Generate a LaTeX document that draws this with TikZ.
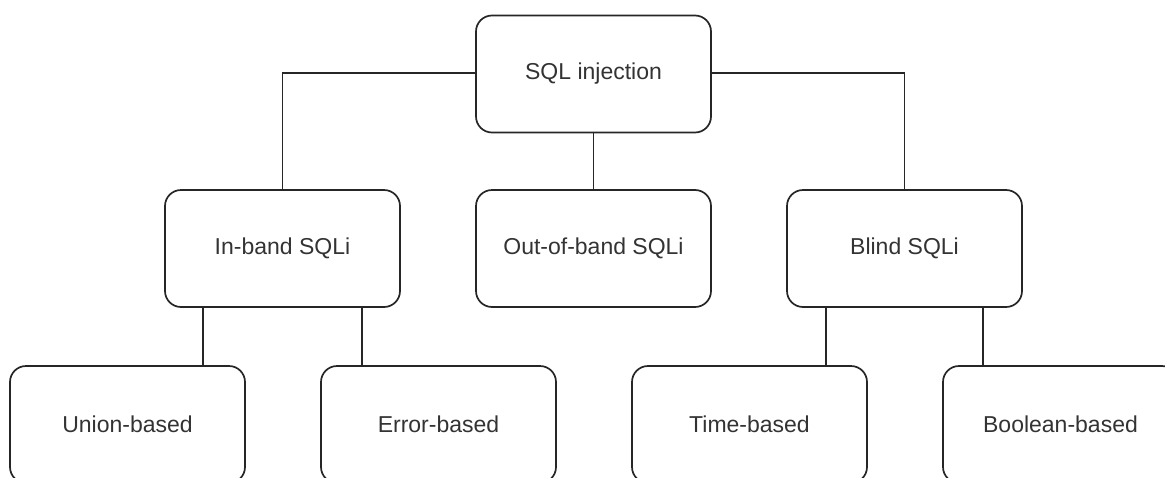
\documentclass[tikz,border=0pt]{standalone}
\usepackage{fontspec}
\setmainfont{Liberation Sans}
\begin{document}
\begin{tikzpicture}[x=1pt,y=-1pt,
  box/.style={draw=black!85, line width=1.7pt, rounded corners=16pt, minimum width=235pt, minimum height=117pt, inner sep=0pt, text=black!80, font=\fontsize{23}{27}\selectfont},
  link/.style={draw=black!85, line width=1.7pt}]
\useasboundingbox (0,0) rectangle (1165,477);
\clip (0,0) rectangle (1165,477);
\node[box] (top) at (593.5,74) {SQL injection};
\node[box] (inband) at (282.5,248.5) {In-band SQLi};
\node[box] (oob) at (593.5,248.5) {Out-of-band SQLi};
\node[box] (blind) at (904.5,248.5) {Blind SQLi};
\node[box] (union) at (127.5,424.5) {Union-based};
\node[box] (error) at (438.5,424.5) {Error-based};
\node[box] (time) at (749.5,424.5) {Time-based};
\node[box] (bool) at (1060.5,424.5) {Boolean-based};
\draw[link] ([yshift=1pt]top.west) -| (inband.north);
\draw[link] ([yshift=1pt]top.east) -| (blind.north);
\draw[link] (top.south) -- (oob.north);
\draw[link] ([xshift=39pt]inband.south west) -- ([xshift=39pt]inband.south west |- union.north);
\draw[link] ([xshift=-39pt]inband.south east) -- ([xshift=-39pt]inband.south east |- error.north);
\draw[link] ([xshift=40pt]blind.south west) -- ([xshift=40pt]blind.south west |- time.north);
\draw[link] ([xshift=-40pt]blind.south east) -- ([xshift=-40pt]blind.south east |- bool.north);
\end{tikzpicture}
\end{document}
